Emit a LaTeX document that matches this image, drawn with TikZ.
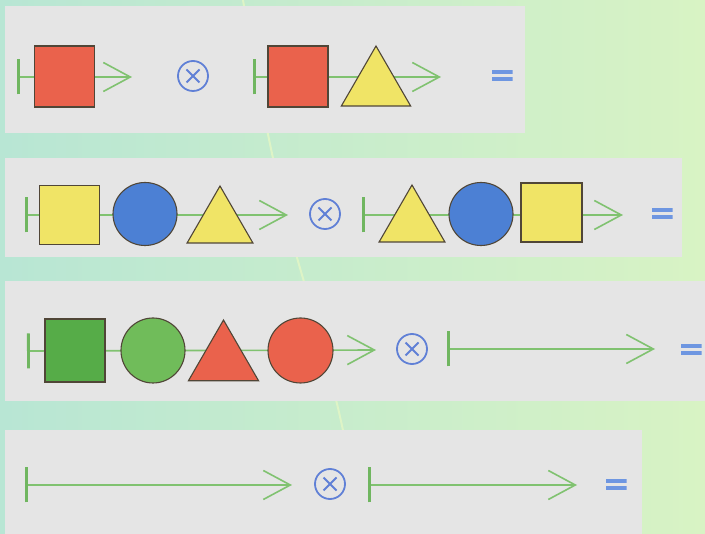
\documentclass[tikz,border=0pt]{standalone}
\usetikzlibrary{arrows.meta,shapes.geometric}
\definecolor{bgL}{RGB}{184,230,212}
\definecolor{bgR}{RGB}{216,243,196}
\definecolor{bgcurve}{RGB}{222,244,198}
\definecolor{panelc}{RGB}{229,229,229}
\definecolor{lineg}{RGB}{128,194,112}
\definecolor{barg}{RGB}{112,182,96}
\definecolor{redf}{RGB}{234,98,76}
\definecolor{yelf}{RGB}{240,228,102}
\definecolor{bluef}{RGB}{76,128,212}
\definecolor{gsq}{RGB}{86,172,72}
\definecolor{gci}{RGB}{112,188,90}
\definecolor{edgec}{RGB}{80,70,55}
\definecolor{opb}{RGB}{96,128,214}
\definecolor{eqb}{RGB}{110,150,225}
\tikzset{
  panelbox/.style={fill=panelc, draw=none},
  chain/.style={draw=lineg, line width=1.6pt,
    {Bar[width=35pt,line width=2.8pt,color=barg]}-{Straight Barb[length=27pt,width=29pt,line width=1.6pt]}},
  shp/.style={draw=edgec, line width=1.1pt, inner sep=0pt, outer sep=0pt},
  sqbox/.style={shp, rectangle, minimum width=60pt, minimum height=61pt},
  rnd/.style={shp, ellipse, minimum width=64pt, minimum height=64pt},
  tri/.style={shp, regular polygon, regular polygon sides=3, minimum size=#1},
  opnode/.style={circle, draw=opb, line width=1.8pt, minimum size=30pt, inner sep=0pt,
    path picture={\draw[opb, line width=2pt] (path picture bounding box.center) ++(-6.5,-6.5) -- ++(13,13) ++(0,-13) -- ++(-13,13);}},
  eqsign/.style={minimum width=21pt, minimum height=11pt, inner sep=0pt, draw=none,
    path picture={
      \fill[eqb] (path picture bounding box.north west) rectangle ([yshift=-4pt]path picture bounding box.north east);
      \fill[eqb] (path picture bounding box.south west) rectangle ([yshift=4pt]path picture bounding box.south east);}}
}
\begin{document}
\begin{tikzpicture}[x=1pt,y=-1pt]
\useasboundingbox (0,0) rectangle (705,534);
\shade[left color=bgL, right color=bgR] (0,0) rectangle (705,534);
\draw[bgcurve, line width=2pt] (243,0) .. controls (258,90) and (280,200) .. (300,268) .. controls (318,330) and (335,390) .. (345,440);
% panels
\fill[panelbox] (5,6) rectangle (525,133);
\fill[panelbox] (5,158) rectangle (682,257);
\fill[panelbox] (5,281) rectangle (705,401);
\fill[panelbox] (5,430) rectangle (642,534);

% ---------- row 1
\coordinate (s1a) at (17,77);  \coordinate (t1a) at (132,77);
\coordinate (s1b) at (253,77); \coordinate (t1b) at (441,77);
\draw[chain] (s1a) -- (t1a);
\draw[chain] (s1b) -- (t1b);
\node[sqbox, fill=redf] (sq1a) at (64.5,76.5) {};
\node[opnode] (op1) at (193,76) {};
\node[sqbox, fill=redf] (sq1b) at (298,76.5) {};
\node[tri=80pt, fill=yelf] (tr1b) at (376,86) {};
\node[eqsign] (eq1) at (502,76) {};

% ---------- row 2
\coordinate (s2a) at (25,215);  \coordinate (t2a) at (288,215);
\coordinate (s2b) at (362,215); \coordinate (t2b) at (623,215);
\draw[chain] (s2a) -- (t2a);
\draw[chain] (s2b) -- (t2b);
\node[sqbox, fill=yelf, minimum height=59pt] (sq2a) at (69.5,215) {};
\node[rnd, fill=bluef, minimum height=63pt] (ci2a) at (145,214) {};
\node[tri=76pt, fill=yelf] (tr2a) at (220,224) {};
\node[opnode] (op2) at (325,214) {};
\node[tri=76pt, fill=yelf] (tr2b) at (412,223) {};
\node[rnd, fill=bluef, minimum height=63pt] (ci2b) at (481,214) {};
\node[sqbox, fill=yelf, minimum width=61pt, minimum height=59pt] (sq2b) at (551.5,212.5) {};
\node[eqsign] (eq2) at (662,214) {};

% ---------- row 3
\coordinate (s3a) at (27,351);  \coordinate (t3a) at (376,350);
\coordinate (s3b) at (447,349); \coordinate (t3b) at (655,349);
\draw[chain] (s3a) -- (t3a);
\draw[chain] (s3b) -- (t3b);
\node[sqbox, fill=gsq, minimum height=63pt] (sq3a) at (75,350.5) {};
\node[rnd, fill=gci, minimum height=65pt] (ci3a) at (153,350.5) {};
\node[tri=81pt, fill=redf] (tr3a) at (223.5,360.5) {};
\node[rnd, fill=redf, minimum width=65pt, minimum height=65pt] (ci3b) at (300.5,350.5) {};
\node[opnode] (op3) at (412,349) {};
\node[eqsign] (eq3) at (691,350) {};

% ---------- row 4
\coordinate (s4a) at (25,485);  \coordinate (t4a) at (292,485);
\coordinate (s4b) at (368,485); \coordinate (t4b) at (577,485);
\draw[chain] (s4a) -- (t4a);
\draw[chain] (s4b) -- (t4b);
\node[opnode] (op4) at (330,484) {};
\node[eqsign] (eq4) at (616,485) {};
\end{tikzpicture}
\end{document}
